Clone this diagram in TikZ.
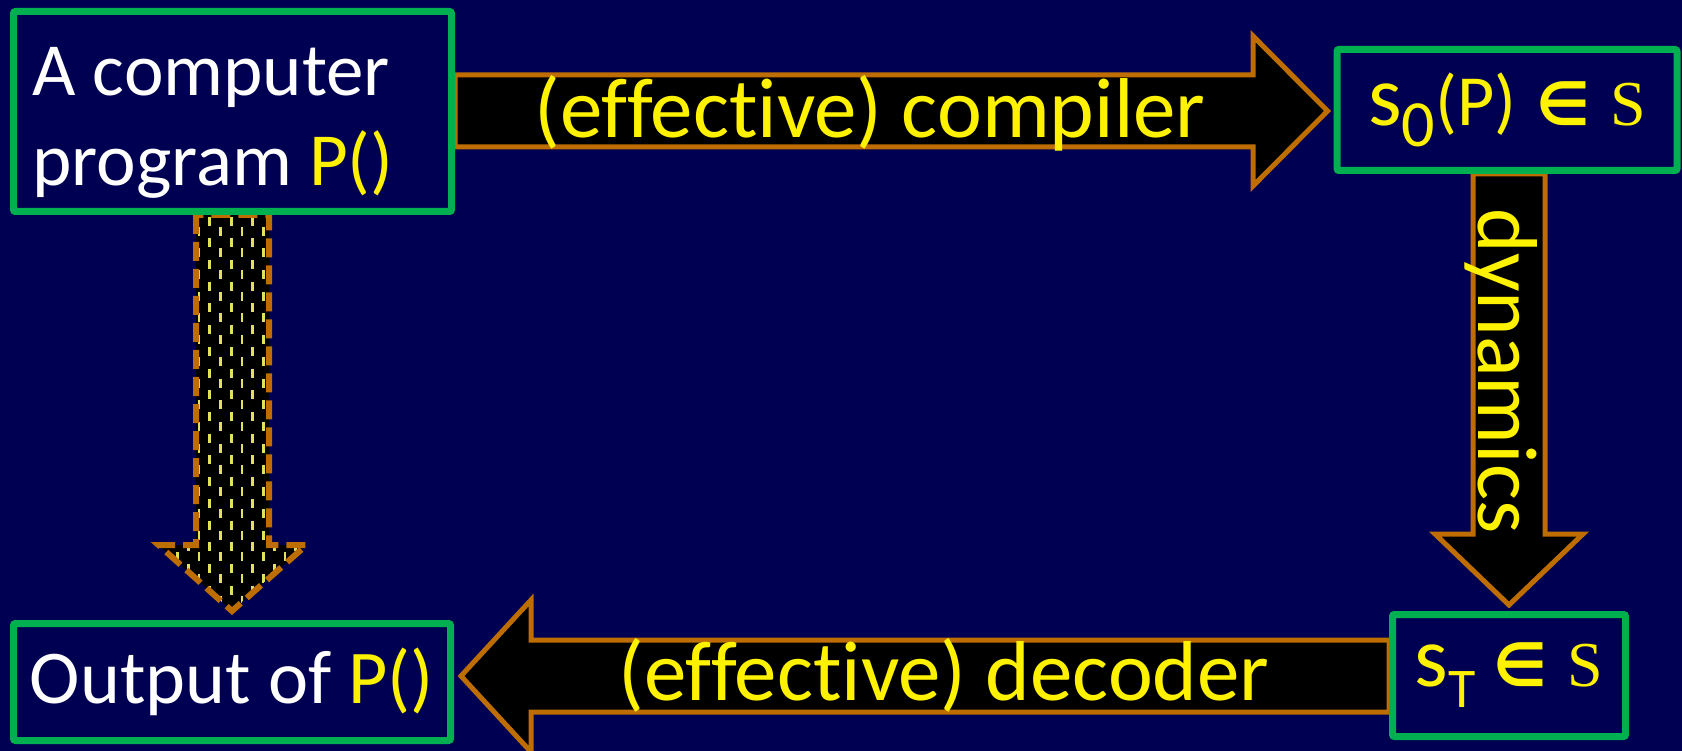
\documentclass[tikz,border=0pt]{standalone}
\usepackage{fontspec}
\setmainfont{Carlito}[Ligatures={NoCommon}]
\newfontfamily\dvs{DejaVu Sans}
\newfontfamily\serifS{Liberation Serif}
\usetikzlibrary{calc}
\pgfdeclarelayer{bg}
\pgfsetlayers{bg,main}
\definecolor{bgnavy}{RGB}{0,0,82}
\definecolor{boxgreen}{RGB}{0,176,80}
\definecolor{arrorange}{RGB}{190,110,0}
\definecolor{dashyellow}{RGB}{225,225,90}
\newcommand{\elem}{{\dvs\bfseries\fontsize{60}{60}\selectfont ∈}}
\newcommand{\bigS}{{\serifS\fontsize{64}{64}\selectfont S}}
\newcommand{\bigs}{{\fontsize{86}{86}\selectfont s}}
\begin{document}
\begin{tikzpicture}[x=1pt,y=-1pt,
  box/.style={draw=boxgreen, line width=7pt, fill=bgnavy, rounded corners=2pt,
    inner sep=0pt, text=white, font=\fontsize{76}{90}\selectfont},
  blockarrow/.style={draw=arrorange, line width=5pt, fill=black, line join=miter},
  dasharrow/.style={draw=arrorange, line width=6pt, dash pattern=on 19pt off 8pt},
  lbl/.style={text=yellow, font=\fontsize{85}{90}\selectfont, inner sep=0pt}]
\useasboundingbox (0,0) rectangle (1682,751);

% boxes
\node[box, minimum width=438pt, minimum height=200pt, text width=400pt, align=left,
  font=\fontsize{75}{90}\selectfont]
  (A) at (232.5,111.5) {\spaceskip=0pt\xspaceskip=0pt\relax\rule{0pt}{70pt}A computer\\program \textcolor{yellow}{P()}};
\node[box, minimum width=340pt, minimum height=121pt, text=yellow, font=\fontsize{72}{72}\selectfont]
  (s0) at (1507,110) {\bigs\raisebox{-21pt}{\fontsize{66}{66}\selectfont 0}(P)\hspace{20pt}\elem\hspace{20pt}\bigS};
\node[box, minimum width=437pt, minimum height=117pt]
  (O) at (232,682) {Output of \textcolor{yellow}{P()}};
\node[box, minimum width=233pt, minimum height=122pt, text=yellow]
  (sT) at (1509,675.5) {\bigs\raisebox{-21pt}{\fontsize{56}{56}\selectfont T}\hspace{18pt}\elem\hspace{20pt}\bigS};

\begin{pgfonlayer}{bg}
\fill[bgnavy] (0,0) rectangle (1682,751);
% compiler arrow
\draw[blockarrow] (A.east |- 0,75) -- (1253,75) -- (1253,36) -- ([xshift=-6pt]s0.west |- 0,111)
  -- (1253,186) -- (1253,147) -- (A.east |- 0,147) -- cycle;
% dynamics arrow
\draw[blockarrow] (s0.south -| 1473,0) -- (1473,534) -- (1435,534) -- ([yshift=6pt]sT.north)
  -- (1583,534) -- (1545,534) -- (s0.south -| 1545,0) -- cycle;
% decoder arrow
\draw[blockarrow] (sT.west |- 0,640) -- (531,640) -- (531,600) -- ($(O.east |- 0,676)+(7,0)$)
  -- (531,752) -- (531,712) -- (sT.west |- 0,712) -- cycle;
% dashed (conceptual) arrow
\def\darrow{(A.south -| 196,0) -- (196,545) -- (158.5,545) -- ([yshift=9pt]O.north)
  -- (306.5,545) -- (269,545) -- (A.south -| 269,0) -- cycle}
\fill[black] \darrow;
\begin{scope}
\clip \darrow;
\foreach \i [evaluate=\i as \ph using {mod(\i,2)*10}] in {0,...,12}
  \draw[dashyellow, line width=2.6pt, dash pattern=on 9pt off 12.7pt, dash phase=\ph pt]
    ({177.5+\i*10.75},205) -- ({177.5+\i*10.75},630);
\end{scope}
\draw[dasharrow] \darrow;
\end{pgfonlayer}

% arrow labels
\node[lbl] (lc) at (870,113) {(effective) compiler};
\node[lbl] (ld) at (944,675) {(effective) decoder};
\node[lbl, rotate=-90] (ly) at (1501,371) {dynamics};
\end{tikzpicture}
\end{document}
